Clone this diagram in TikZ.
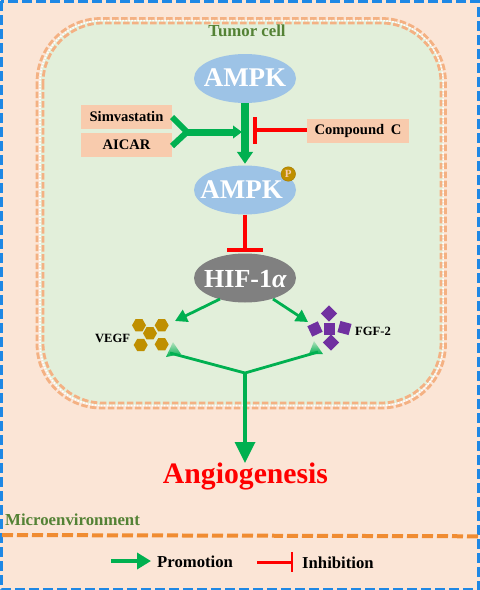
\documentclass[tikz,border=0pt]{standalone}
\usepackage{fontspec}
\setmainfont{Liberation Serif}
\usetikzlibrary{arrows.meta,shapes.geometric}
\definecolor{bgc}{HTML}{FBE5D6}
\definecolor{cellc}{HTML}{E2EFDA}
\definecolor{memc}{HTML}{F4B183}
\definecolor{blu}{HTML}{1E88E5}
\definecolor{org}{HTML}{F08C32}
\definecolor{grn}{HTML}{00B050}
\definecolor{rd}{HTML}{FF0000}
\definecolor{ell}{HTML}{9DC3E6}
\definecolor{box}{HTML}{F8CBAD}
\definecolor{olive}{HTML}{548235}
\definecolor{gold}{HTML}{BF8F00}
\definecolor{purp}{HTML}{7030A0}
\tikzset{
 x=1pt,y=-1pt,
 enz/.style={ellipse,minimum width=102pt,minimum height=49pt,inner sep=0pt},
 enztxt/.style={inner sep=0pt,text=white,font=\fontsize{27}{27}\selectfont\bfseries},
 drug/.style={fill=box,minimum height=24pt,inner sep=0pt,font=\fontsize{14.6}{14.6}\selectfont\bfseries},
 lab/.style={inner sep=0pt,font=\fontsize{12.6}{12.6}\selectfont\bfseries},
 place/.style={inner sep=0pt,text=olive,font=\fontsize{16.8}{16.8}\selectfont\bfseries},
 leg/.style={inner sep=0pt,font=\fontsize{16.7}{16.7}\selectfont\bfseries},
 hex/.style={regular polygon,regular polygon sides=6,fill=gold,minimum size=14pt,inner sep=0pt},
 sq/.style={rectangle,fill=purp,minimum size=11.5pt,inner sep=0pt},
 inh/.style={draw=rd,line width=3.8pt},
 mem/.style={draw=memc,line width=2.8pt,dash pattern=on 6.5pt off 2.5pt},
}
\begin{document}
\begin{tikzpicture}
\useasboundingbox (0,0) rectangle (480,590);
\fill[bgc] (0,0) rectangle (480,590);
\draw[blu,line width=3pt,dash pattern=on 10pt off 4pt] (1,1) rectangle (478.5,589);
% cell
\fill[cellc,rounded corners=62pt] (40,20) rectangle (443,405);
\draw[mem,rounded corners=64pt] (37,18.5) rectangle (445.5,408);
\draw[white,line width=1.6pt,dash pattern=on 1.5pt off 1.5pt,rounded corners=62pt] (40,20.7) rectangle (443,405.5);
\draw[mem,rounded corners=60pt] (43,23) rectangle (441,403);
% nodes
\node[enz,fill=ell] (a1) at (245,78.5) {};
\node[enz,fill=ell] (a2) at (245,190) {};
\node[enztxt] (t1) at (245,78) {AMPK};
\node[enztxt] (t2) at (241.7,190) {AMPK};
\node[circle,fill=gold,draw=gold!85!black,minimum size=14.5pt,inner sep=0pt,text=box,font=\fontsize{11}{11}\selectfont\bfseries] (p) at (288.3,174) {P};
\node[enz,fill=black!50] (hif) at (245,278) {};
\node[enztxt,font=\fontsize{26}{26}\selectfont\bfseries] (t3) at (245.5,279) {HIF-1\textit{α}};
\node[drug,minimum width=91pt] (sim) at (126.5,117) {Simvastatin};
\node[drug,minimum width=91pt] (aic) at (126.5,145) {AICAR};
\node[drug,minimum width=102pt] (cc) at (358,131) {Compound\hspace{3pt} C};
\node[place] (tc) at (247,31) {Tumor cell};
% coordinates
\coordinate (fork) at (187,132);
\coordinate (hit) at (242,132);
\coordinate (bar1t) at (255,117);
\coordinate (bar1b) at (255,144);
\coordinate (bar1m) at (255,130);
\coordinate (bar2l) at (227,250);
\coordinate (bar2r) at (263,250);
\coordinate (bar2m) at (245,250);
% green thick
\draw[grn,line width=8pt,-{Triangle[length=12pt,width=15.5pt]}] (a1.south) -- ([yshift=1.5pt]a2.north);
\draw[grn,line width=6pt] (172,117) -- (fork) -- (172,146);
\draw[grn,line width=7pt,-{Triangle[length=9pt,width=12.5pt]}] (fork) -- (hit);
% red
\draw[inh] (bar1t) -- (bar1b);
\draw[inh] (bar1m) -- (cc.west|-bar1m);
\draw[inh] (a2.south) -- (bar2m);
\draw[inh] (bar2l) -- (bar2r);
% HIF branches
\coordinate (vt) at (175,321);
\coordinate (ft) at (308,322);
\coordinate (hl) at (220,299);
\coordinate (hr) at (273,299);
\draw[grn,line width=2.8pt,-{Triangle[length=12pt,width=13pt]}] (hl) -- (vt);
\draw[grn,line width=2.8pt,-{Triangle[length=12pt,width=13pt]}] (hr) -- (ft);
% vegf
\node[hex] (h1) at (139,325.3) {};
\node[hex] (h2) at (161.7,325.3) {};
\node[hex] (h3) at (150,333.3) {};
\node[hex] (h4) at (140.7,345) {};
\node[hex] (h5) at (161.7,344.3) {};
\node[lab] (vegf) at (112.5,338) {VEGF};
% fgf
\node[sq] (s0) at (329.5,329) {};
\node[sq,rotate=45] (s1) at (329,313.5) {};
\node[sq,rotate=25] (s2) at (315,329) {};
\node[sq,rotate=-15] (s3) at (344.5,328) {};
\node[sq,rotate=45] (s4) at (331,342.5) {};
\node[lab] (fgf) at (373,331.5) {FGF-2};
% fork below
\coordinate (j) at (245,373);
\coordinate (jl) at (170,353);
\coordinate (jr) at (318,352);
\shade[bottom color=grn,top color=grn!20!cellc] (173,342) -- (166,357) -- (181,354) -- cycle;
\shade[bottom color=grn,top color=grn!20!cellc] (314,341) -- (309,354) -- (323,354) -- cycle;
\draw[grn,line width=2.8pt] (jl) -- (j) -- (jr);
\node[inner sep=0pt,text=rd,font=\fontsize{29.7}{29.7}\selectfont\bfseries] (ang) at (245.5,476.5) {Angiogenesis};
\draw[grn,line width=3.5pt,-{Triangle[length=21pt,width=20pt]}] (j) -- (245,463);
% micro
\node[place,anchor=west] (mi) at (5,519.5) {Microenvironment};
\draw[org,line width=4pt,dash pattern=on 11pt off 4pt] (2,535) -- (478,536.3);
% legend
\coordinate (la) at (111,561);
\coordinate (lb) at (151,561);
\draw[grn,line width=4pt,-{Triangle[length=14pt,width=16pt]}] (la) -- (lb);
\node[leg,anchor=west] (pro) at (157,561.5) {Promotion};
\coordinate (lc) at (257,562.3);
\coordinate (ld) at (292,562.3);
\draw[rd,line width=2.5pt] (lc) -- (ld);
\draw[rd,line width=2.5pt] (292,552) -- (292,572);
\node[leg,anchor=west] (inhb) at (302,562.5) {Inhibition};
\end{tikzpicture}
\end{document}
